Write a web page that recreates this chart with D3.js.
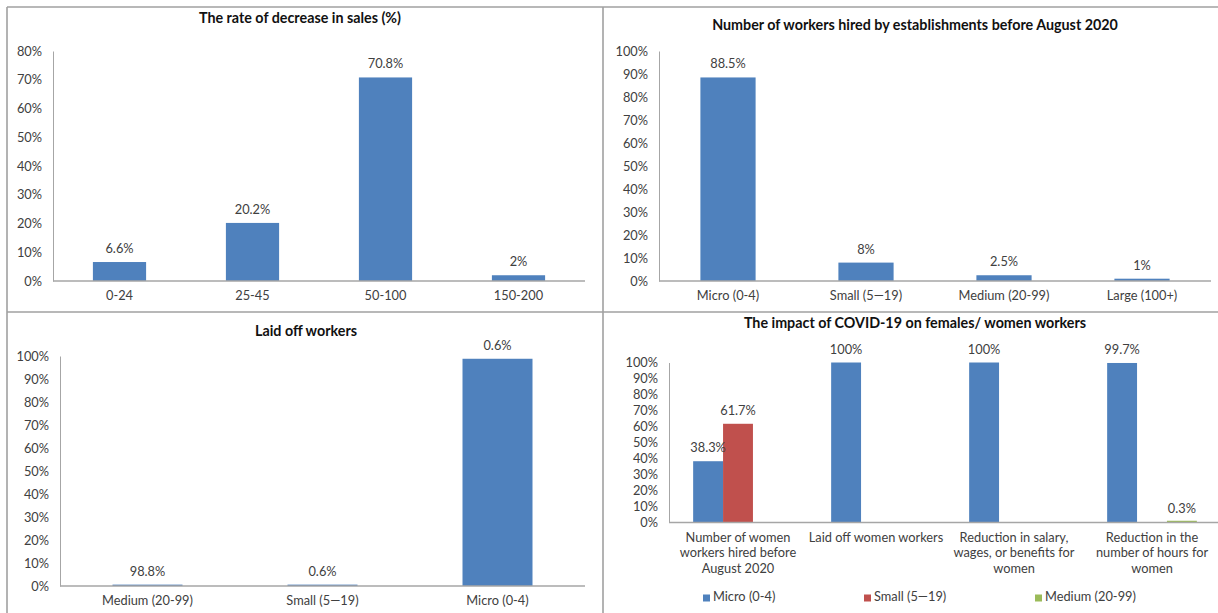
<!DOCTYPE html>
<html>
<head>
<meta charset="utf-8">
<script src="https://cdn.jsdelivr.net/npm/d3@7"></script>
<style>
  html, body { margin: 0; padding: 0; background: #fff; }
  svg { display: block; font-family: Lato, "Liberation Sans", sans-serif; }
</style>
</head>
<body>
<svg id="chart" width="1218" height="613"></svg>
<script>
// ---- Data ----
const salesCategories = ["0-24", "25-45", "50-100", "150-200"];
const salesValues = [6.6, 20.2, 70.8, 2];
const salesLabels = ["6.6%", "20.2%", "70.8%", "2%"];
const salesTicks = [0, 10, 20, 30, 40, 50, 60, 70, 80];

const hiredCategories = ["Micro (0-4)", "Small (5\u201419)", "Medium (20-99)", "Large (100+)"];
const hiredValues = [88.5, 8, 2.5, 1];
const hiredLabels = ["88.5%", "8%", "2.5%", "1%"];

const laidCategories = ["Medium (20-99)", "Small (5\u201419)", "Micro (0-4)"];
const laidValues = [0.6, 0.6, 98.8];
const laidLabels = ["98.8%", "0.6%", "0.6%"];

const pctTicks = [0, 10, 20, 30, 40, 50, 60, 70, 80, 90, 100];

const womenCategories = [
  ["Number of women", "workers hired before", "August 2020"],
  ["Laid off women workers"],
  ["Reduction in salary,", "wages, or benefits for", "women"],
  ["Reduction in the", "number of hours for", "women"]
];
const womenSeries = ["Micro (0-4)", "Small (5\u201419)", "Medium (20-99)"];
const womenMicro = [38.3, 100, 100, 99.7];
const womenSmall = [61.7, null, null, null];
const womenMedium = [null, null, null, 0.3];
const womenMicroLabels = ["38.3%", "100%", "100%", "99.7%"];
const womenSmallLabels = ["61.7%", null, null, null];
const womenMediumLabels = [null, null, null, "0.3%"];

const titles = [
  "The rate of decrease in sales (%)",
  "Number of workers hired by establishments before August 2020",
  "Laid off workers",
  "The impact of COVID-19 on females/ women workers"
];

// ---- Styles ----
const BLUE = "#4F81BD", RED = "#C0504D", GREEN = "#9BBB59";
const AXIS = "#A6A6A6", TEXT = "#404040";
const FS = 12.8, TFS = 14.3;

const svg = d3.select("#chart");

// Panel borders
const border = svg.append("g").attr("stroke", "#A0A0A0").attr("stroke-width", 1.6).attr("fill", "none");
border.append("line").attr("x1", 7).attr("x2", 7).attr("y1", 7).attr("y2", 613);
border.append("line").attr("x1", 7).attr("x2", 1218).attr("y1", 7).attr("y2", 7);
border.append("line").attr("x1", 603).attr("x2", 603).attr("y1", 7).attr("y2", 613);
border.append("line").attr("x1", 7).attr("x2", 1218).attr("y1", 312).attr("y2", 312);

function title(text, cx, cy) {
  svg.append("text").attr("x", cx).attr("y", cy).attr("text-anchor", "middle")
    .attr("dominant-baseline", "middle").attr("font-weight", "bold").attr("font-size", TFS)
    .attr("fill", "#111").text(text);
}

function yAxis(y, x0, ticks) {
  const g = svg.append("g").attr("transform", `translate(${x0},0)`)
    .call(d3.axisLeft(y).tickValues(ticks).tickSize(0).tickPadding(11).tickFormat(d => d + "%"));
  g.select(".domain").attr("stroke", AXIS).attr("stroke-width", 1);
  g.selectAll("text").attr("font-size", FS).attr("fill", TEXT).attr("font-family", "Lato, sans-serif");
  return g;
}

function xAxis(y0, x0, x1) {
  svg.append("line").attr("x1", x0).attr("x2", x1).attr("y1", y0).attr("y2", y0)
    .attr("stroke", AXIS).attr("stroke-width", 1.3);
}

function simplePanel(opts) {
  const x = d3.scaleBand().domain(opts.categories).range([opts.x0, opts.x1]).paddingInner(0.6).paddingOuter(0.3);
  const y = d3.scaleLinear().domain([0, opts.ymax]).range([opts.y0, opts.y1]);
  yAxis(y, opts.x0, opts.ticks);
  svg.append("g").selectAll("rect").data(opts.values).join("rect")
    .attr("x", (d, i) => x(opts.categories[i]))
    .attr("width", x.bandwidth())
    .attr("y", d => y(d))
    .attr("height", d => y(0) - y(d))
    .attr("fill", BLUE);
  xAxis(opts.y0, opts.x0, opts.x1);
  svg.append("g").selectAll("text").data(opts.values).join("text")
    .attr("x", (d, i) => x(opts.categories[i]) + x.bandwidth() / 2)
    .attr("y", d => y(d) - 9)
    .attr("text-anchor", "middle").attr("font-size", FS).attr("fill", TEXT)
    .text((d, i) => opts.labels[i]);
  svg.append("g").selectAll("text").data(opts.categories).join("text")
    .attr("x", d => x(d) + x.bandwidth() / 2)
    .attr("y", opts.y0 + 16)
    .attr("dominant-baseline", "middle")
    .attr("text-anchor", "middle").attr("font-size", FS).attr("fill", TEXT)
    .text(d => d);
}

// Panel 1
title(titles[0], 300, 19);
simplePanel({categories: salesCategories, values: salesValues, labels: salesLabels, ticks: salesTicks,
  ymax: 80, x0: 53, x1: 585, y0: 281, y1: 51});

// Panel 2
title(titles[1], 915, 26);
simplePanel({categories: hiredCategories, values: hiredValues, labels: hiredLabels, ticks: pctTicks,
  ymax: 100, x0: 659, x1: 1211, y0: 281, y1: 51});

// Panel 3
title(titles[2], 306, 332);
simplePanel({categories: laidCategories, values: laidValues, labels: laidLabels, ticks: pctTicks,
  ymax: 100, x0: 60, x1: 585, y0: 586, y1: 356});

// Panel 4 (grouped)
title(titles[3], 915, 324);
(function () {
  const x0 = 669, x1 = 1221, yb = 522.5, yt = 362.5;
  const idx = womenCategories.map((d, i) => i);
  const x = d3.scaleBand().domain(idx).range([x0, x1]).paddingInner(0.35).paddingOuter(0.175);
  const xi = d3.scaleBand().domain(womenSeries).range([0, x.bandwidth()]);
  const y = d3.scaleLinear().domain([0, 100]).range([yb, yt]);
  yAxis(y, x0, pctTicks);
  const seriesVals = [womenMicro, womenSmall, womenMedium];
  const seriesLabels = [womenMicroLabels, womenSmallLabels, womenMediumLabels];
  const colors = [BLUE, RED, GREEN];
  const marks = [];
  seriesVals.forEach((vals, s) => vals.forEach((v, i) => {
    if (v !== null) marks.push({s, i, v, label: seriesLabels[s][i]});
  }));
  svg.append("g").selectAll("rect").data(marks).join("rect")
    .attr("x", d => x(d.i) + xi(womenSeries[d.s]))
    .attr("width", xi.bandwidth())
    .attr("y", d => y(d.v))
    .attr("height", d => Math.max(y(0) - y(d.v), 0))
    .attr("fill", d => colors[d.s]);
  svg.append("g").selectAll("line").data(marks.filter(d => d.v < 1)).join("line")
    .attr("x1", d => x(d.i) + xi(womenSeries[d.s]))
    .attr("x2", d => x(d.i) + xi(womenSeries[d.s]) + xi.bandwidth())
    .attr("y1", y(0) - 1).attr("y2", y(0) - 1)
    .attr("stroke", d => colors[d.s]).attr("stroke-width", 1.5);
  svg.append("line").attr("x1", x0).attr("x2", 1218).attr("y1", yb).attr("y2", yb)
    .attr("stroke", AXIS).attr("stroke-width", 1.3);
  svg.append("g").selectAll("text").data(marks).join("text")
    .attr("x", d => x(d.i) + xi(womenSeries[d.s]) + xi.bandwidth() / 2)
    .attr("y", d => y(d.v) - 9)
    .attr("text-anchor", "middle").attr("font-size", FS).attr("fill", TEXT)
    .text(d => d.label);
  const cat = svg.append("g").selectAll("text").data(womenCategories).join("text")
    .attr("text-anchor", "middle").attr("font-size", FS).attr("fill", TEXT);
  cat.each(function (lines, i) {
    d3.select(this).selectAll("tspan").data(lines).join("tspan")
      .attr("x", x(i) + x.bandwidth() / 2)
      .attr("y", (l, j) => yb + 19 + j * 15.5)
      .text(l => l);
  });
  // Legend
  const legendX = [703, 864, 1035];
  const lg = svg.append("g").selectAll("g").data(womenSeries).join("g")
    .attr("transform", (d, i) => `translate(${legendX[i]},598)`);
  lg.append("rect").attr("x", 0).attr("y", -3.5).attr("width", 7).attr("height", 7)
    .attr("fill", (d, i) => colors[i]);
  lg.append("text").attr("x", 10).attr("y", 0).attr("dominant-baseline", "middle")
    .attr("font-size", FS).attr("fill", TEXT).text(d => d);
})();
</script>
</body>
</html>
